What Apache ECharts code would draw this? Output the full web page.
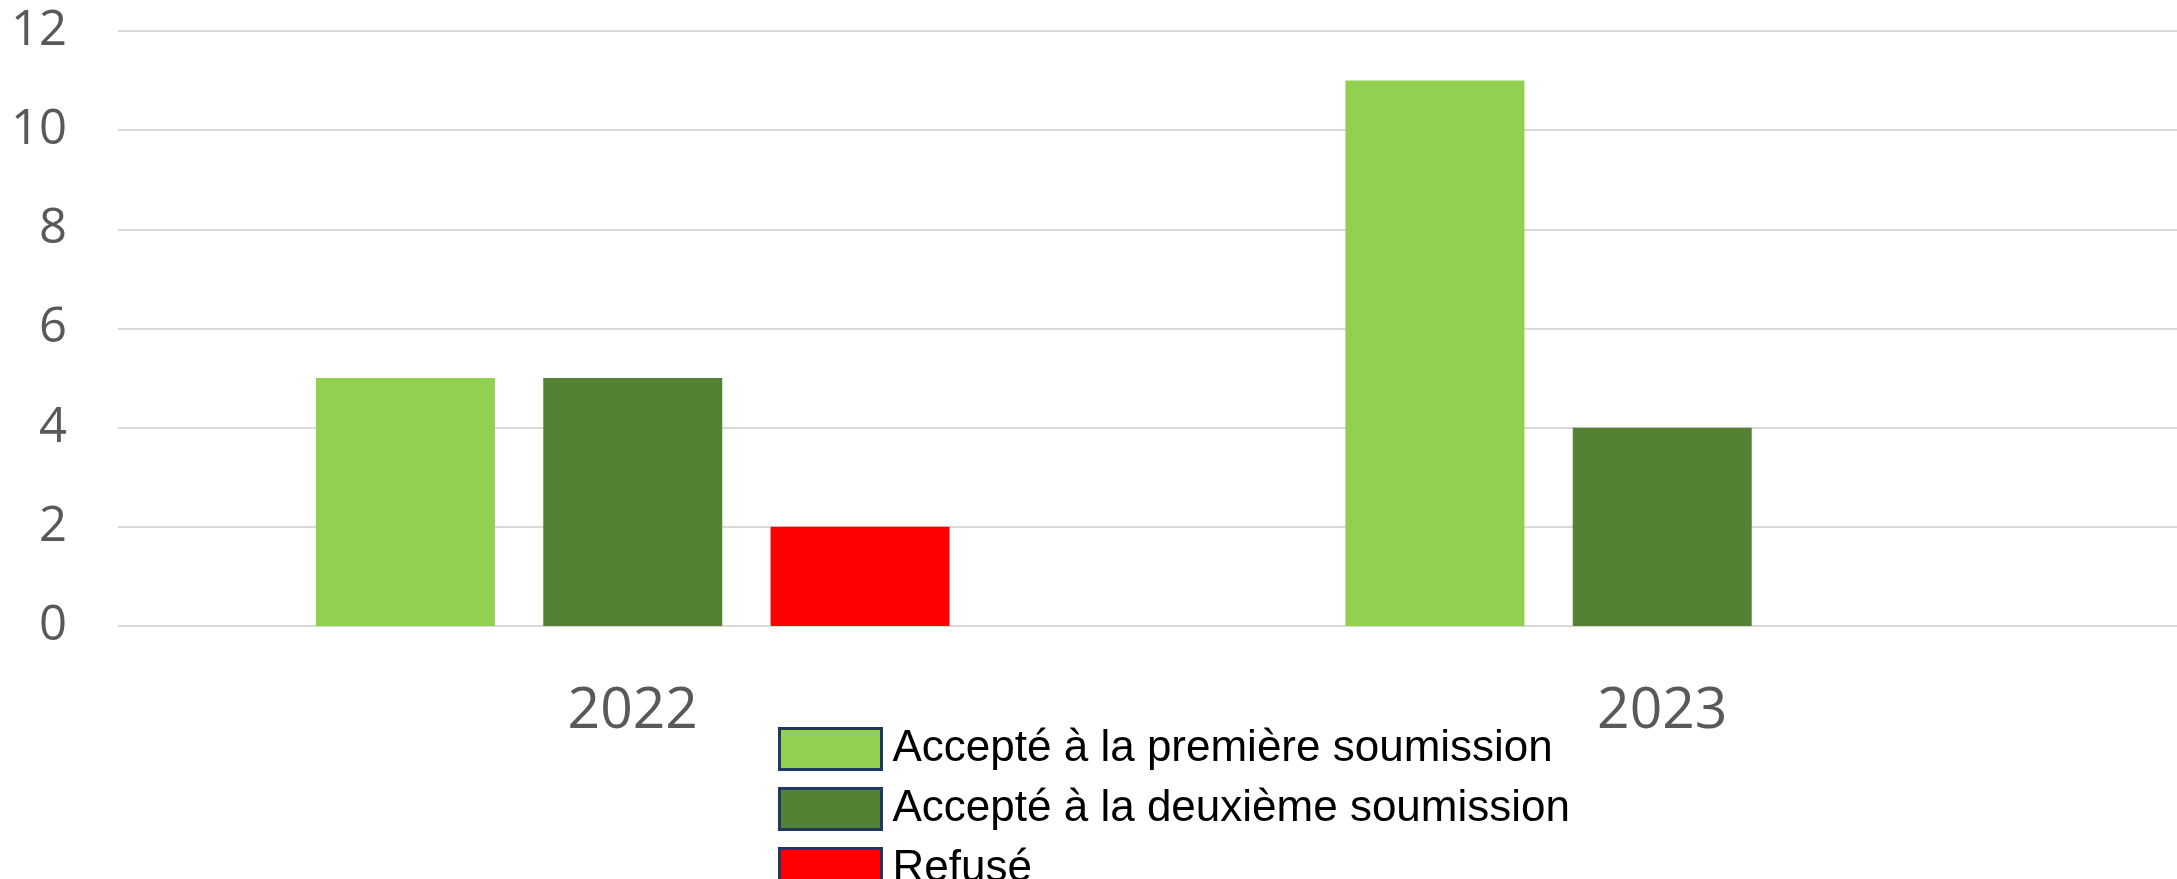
<!DOCTYPE html>
<html>
<head>
<meta charset="utf-8">
<script src="https://cdn.jsdelivr.net/npm/echarts@6/dist/echarts.min.js"></script>
<style>
  html, body { margin: 0; padding: 0; background: #fff; }
  #chart { width: 2177px; height: 879px; }
</style>
</head>
<body>
<div id="chart"></div>
<script>
var years = ['2022', '2023'];
var seriesNames = ['Accepté à la première soumission', 'Accepté à la deuxième soumission', 'Refusé'];
var premiere = [5, 11];
var deuxieme = [5, 4];
var refuse = [2, null];
var colors = ['#92d050', '#548235', '#ff0000'];

var chart = echarts.init(document.getElementById('chart'));

function bar(name, data, color) {
    return {
        name: name,
        type: 'bar',
        data: data,
        barWidth: 179,
        barGap: '27%',
        itemStyle: { color: color }
    };
}

chart.setOption({
    animation: false,
    grid: { left: 118, right: 0, top: 29, bottom: 253, containLabel: false },
    legend: {
        orient: 'vertical',
        left: 773,
        top: 722,
        height: 300,
        itemWidth: 102,
        itemHeight: 41,
        itemGap: 16,
        icon: 'rect',
        itemStyle: { borderColor: '#1f3864', borderWidth: 3 },
        textStyle: { fontSize: 44, color: '#000', fontFamily: 'Liberation Sans Narrow, Arial Narrow, sans-serif', padding: [0, 0, 0, 6] },
        data: seriesNames
    },
    xAxis: {
        type: 'category',
        data: years,
        axisLine: { show: false },
        axisTick: { show: false },
        axisLabel: { fontSize: 57, color: '#595959', margin: 57, fontFamily: 'Open Sans, sans-serif' }
    },
    yAxis: {
        type: 'value',
        min: 0,
        max: 12,
        interval: 2,
        axisLine: { show: false },
        axisTick: { show: false },
        splitLine: { lineStyle: { color: '#d9d9d9', width: 2 } },
        axisLabel: { fontSize: 49, color: '#595959', margin: 51, lineHeight: 62, verticalAlign: 'middle', fontFamily: 'Open Sans, sans-serif' }
    },
    series: [
        bar(seriesNames[0], premiere, colors[0]),
        bar(seriesNames[1], deuxieme, colors[1]),
        bar(seriesNames[2], refuse, colors[2])
    ]
});
</script>
</body>
</html>
